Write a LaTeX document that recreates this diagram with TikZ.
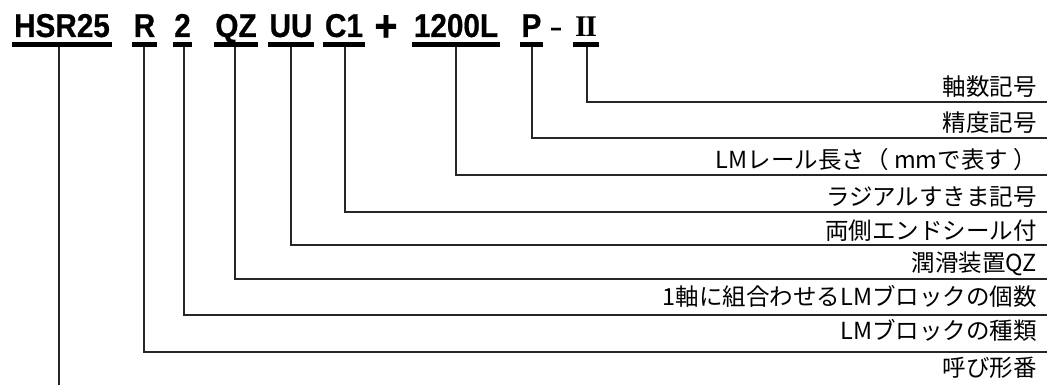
\documentclass[tikz,border=0pt]{standalone}
\usepackage{fontspec}
\newfontfamily\tfont[FakeStretch=0.9,FakeBold=0.6]{Liberation Sans}
\newfontfamily\jfont{Noto Sans CJK JP}
\newfontfamily\rfont{Liberation Serif}
\begin{document}
\begin{tikzpicture}[x=1pt,y=-1pt,
  title/.style={font=\tfont\bfseries\fontsize{33}{33}\selectfont, inner sep=0pt, anchor=base},
  lab/.style={font=\jfont\fontsize{23.5}{23.5}\selectfont, inner sep=0pt, anchor=base east},
  conn/.style={line width=1.1pt, draw=black!85},
  uline/.style={fill=black}]
\useasboundingbox (0,0) rectangle (1047,385);
% title parts
\node[title] (hsr) at (62,37) {HSR25};
\node[title] (r) at (144.5,37) {R};
\node[title] (two) at (182.5,37) {2};
\node[title] (qz) at (236,37) {QZ};
\node[title] (uu) at (291,37) {UU};
\node[title] (c1) at (344,37) {C1};
\node[title, font=\tfont\bfseries\fontsize{44}{44}\selectfont] (plus) at (386,41) {+};
\node[title] (len) at (456,37) {1200L};
\node[title] (p) at (531.5,37) {P};
\node[title, font=\tfont\bfseries\fontsize{22}{22}\selectfont] (dash) at (556,35) {–};
\node[title, font=\rfont\bfseries\fontsize{30}{30}\selectfont] (ii) at (586,37) {I\kern-1.5ptI};
% underlines
\foreach \n in {hsr,r,two,qz,uu,c1,len,p,ii}
  \fill[uline] ([shift={(-1.5pt,-5pt)}]\n.base west) rectangle ([shift={(1.5pt,-10pt)}]\n.base east);
% labels
\node[lab] (l1) at (1037,95.5) {軸数記号};
\node[lab] (l2) at (1037,131.5) {精度記号};
\node[lab] (l3) at (1037,168.5) {LMレール長さ（ mmで表す ）};
\node[lab] (l4) at (1037,205.5) {ラジアルすきま記号};
\node[lab] (l5) at (1037,239.5) {両側エンドシール付};
\node[lab] (l6) at (1037,271.5) {潤滑装置QZ};
\node[lab] (l7) at (1037,305.5) {1軸に組合わせるLMブロックの個数};
\node[lab] (l8) at (1037,339.5) {LMブロックの種類};
\node[lab] (l9) at (1037,376.5) {呼び形番};
% line ends
\coordinate (e1) at (1047,102);
\coordinate (e2) at (1047,138);
\coordinate (e3) at (1047,175);
\coordinate (e4) at (1047,212);
\coordinate (e5) at (1047,245);
\coordinate (e6) at (1047,279);
\coordinate (e7) at (1047,315);
\coordinate (e8) at (1047,352);
\coordinate (bot) at (59,385);
% connectors
\draw[conn] ([shift={(1pt,-10pt)}]ii.base) |- (e1);
\draw[conn] ([shift={(0.5pt,-10pt)}]p.base) |- (e2);
\draw[conn] ([yshift=-10pt]len.base) |- (e3);
\draw[conn] ([shift={(1pt,-10pt)}]c1.base) |- (e4);
\draw[conn] ([yshift=-10pt]uu.base) |- (e5);
\draw[conn] ([shift={(-1pt,-10pt)}]qz.base) |- (e6);
\draw[conn] ([shift={(1.5pt,-10pt)}]two.base) |- (e7);
\draw[conn] ([shift={(-0.5pt,-10pt)}]r.base) |- (e8);
\draw[conn] ([shift={(-3pt,-10pt)}]hsr.base) -- (bot);
\end{tikzpicture}
\end{document}
